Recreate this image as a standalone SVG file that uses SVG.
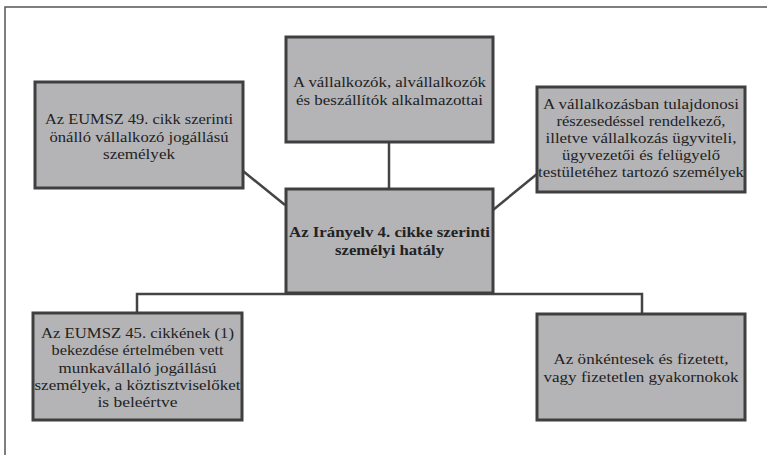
<svg xmlns="http://www.w3.org/2000/svg" width="767" height="455" viewBox="0 0 767 455">
<style>
.box{fill:#b4b4b7;stroke:#3f3f3f;stroke-width:3}
text{font-family:'Liberation Serif','DejaVu Serif',serif;font-size:15px;fill:#222;text-anchor:middle}
.b{font-weight:bold}
.c{fill:none;stroke:#444;stroke-width:2.5}
.frame{fill:none;stroke:#555;stroke-width:1.5}
</style>
<rect width="767" height="455" fill="#fff"/>
<path class="frame" d="M5,455 V7 H767"/>
<g id="connectors">
<line class="c" x1="389" y1="142" x2="389" y2="189"/>
<line class="c" x1="243" y1="171" x2="285" y2="205"/>
<line class="c" x1="493" y1="210" x2="537" y2="174"/>
<path class="c" d="M137,313 V294 H642 V313"/>
</g>
<g id="n-top">
<rect class="box" x="286" y="37" width="207" height="105"/>
<text x="389.5" y="87" textLength="193" lengthAdjust="spacingAndGlyphs">A vállalkozók, alvállalkozók</text>
<text x="389.5" y="105" textLength="187" lengthAdjust="spacingAndGlyphs">és beszállítók alkalmazottai</text>
</g>
<g id="n-left">
<rect class="box" x="35" y="82" width="208" height="106"/>
<text x="139" y="124" textLength="188" lengthAdjust="spacingAndGlyphs">Az EUMSZ 49. cikk szerinti</text>
<text x="139" y="142" textLength="179" lengthAdjust="spacingAndGlyphs">önálló vállalkozó jogállású</text>
<text x="139" y="159" textLength="72" lengthAdjust="spacingAndGlyphs">személyek</text>
</g>
<g id="n-right">
<rect class="box" x="537" y="87" width="208" height="105"/>
<text x="641" y="109" textLength="196" lengthAdjust="spacingAndGlyphs">A vállalkozásban tulajdonosi</text>
<text x="641" y="126" textLength="169" lengthAdjust="spacingAndGlyphs">részesedéssel rendelkező,</text>
<text x="641" y="143" textLength="191" lengthAdjust="spacingAndGlyphs">illetve vállalkozás ügyviteli,</text>
<text x="641" y="160" textLength="158" lengthAdjust="spacingAndGlyphs">ügyvezetői és felügyelő</text>
<text x="641" y="177" textLength="206" lengthAdjust="spacingAndGlyphs">testületéhez tartozó személyek</text>
</g>
<g id="n-center">
<rect class="box" x="286" y="189" width="207" height="104"/>
<text class="b" x="389.5" y="237" textLength="201" lengthAdjust="spacingAndGlyphs">Az Irányelv 4. cikke szerinti</text>
<text class="b" x="389.5" y="255" textLength="109" lengthAdjust="spacingAndGlyphs">személyi hatály</text>
</g>
<g id="n-bottom-left">
<rect class="box" x="33" y="313" width="209" height="107"/>
<text x="137.5" y="338" textLength="193" lengthAdjust="spacingAndGlyphs">Az EUMSZ 45. cikkének (1)</text>
<text x="137.5" y="355" textLength="172" lengthAdjust="spacingAndGlyphs">bekezdése értelmében vett</text>
<text x="137.5" y="373" textLength="158" lengthAdjust="spacingAndGlyphs">munkavállaló  jogállású</text>
<text x="137.5" y="390" textLength="206" lengthAdjust="spacingAndGlyphs">személyek, a köztisztviselőket</text>
<text x="137.5" y="407" textLength="80" lengthAdjust="spacingAndGlyphs">is beleértve</text>
</g>
<g id="n-bottom-right">
<rect class="box" x="537" y="314" width="208" height="106"/>
<text x="641" y="364" textLength="175" lengthAdjust="spacingAndGlyphs">Az önkéntesek és fizetett,</text>
<text x="641" y="382" textLength="195" lengthAdjust="spacingAndGlyphs">vagy fizetetlen gyakornokok</text>
</g>
</svg>
